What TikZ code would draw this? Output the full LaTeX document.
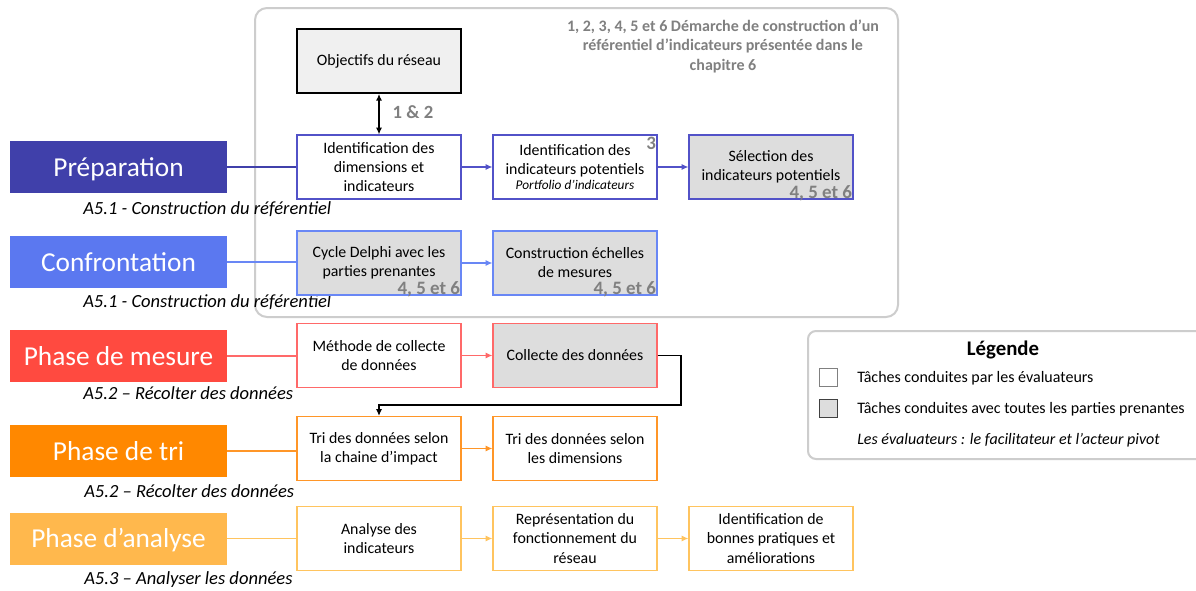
\documentclass[tikz,border=0pt]{standalone}
\usepackage{fontspec}
\setmainfont{Carlito}
\usetikzlibrary{arrows.meta}
\definecolor{prepC}{RGB}{64,64,170}
\definecolor{confC}{RGB}{91,120,240}
\definecolor{mesC}{RGB}{255,74,64}
\definecolor{triC}{RGB}{255,136,0}
\definecolor{anaC}{RGB}{255,184,77}
\definecolor{prepL}{RGB}{82,82,200}
\definecolor{confL}{RGB}{105,135,245}
\definecolor{mesL}{RGB}{255,105,105}
\definecolor{triL}{RGB}{255,150,40}
\definecolor{anaL}{RGB}{255,196,95}
\definecolor{fillG}{RGB}{221,221,221}
\definecolor{fillO}{RGB}{240,240,240}
\definecolor{lblG}{RGB}{128,128,128}
\definecolor{frameG}{RGB}{205,205,205}
\begin{document}
\begin{tikzpicture}[x=0.75pt,y=-0.75pt,
  phase/.style={minimum width=162.75pt,minimum height=39pt,inner sep=0pt,text height=16pt,text depth=2.5pt,text=white,font=\fontsize{20.5}{24}\selectfont},
  sub/.style={anchor=west,inner sep=0pt,font=\fontsize{13.9}{16}\selectfont\itshape},
  task/.style={draw,line width=0.9pt,minimum width=123pt,minimum height=48pt,inner sep=2pt,align=center,font=\fontsize{11.9}{14.3}\selectfont},
  num/.style={text=lblG,inner sep=1pt,font=\fontsize{14.2}{15}\selectfont\bfseries},
  conn/.style={line width=0.9pt},
  arr/.style={line width=0.9pt,-{Latex[length=5pt,width=4.5pt]}},
  legsq/.style={minimum size=14pt,inner sep=0pt,line width=0.8pt},
  legtxt/.style={anchor=west,inner sep=0pt,font=\fontsize{12}{14}\selectfont}
]
\useasboundingbox (0,0) rectangle (1196,590);
\fill[white] (0,0) rectangle (1196,590);

% outer frame
\draw[frameG,line width=1.5pt,rounded corners=9pt] (255,8) rectangle (898,317);
\node[text=lblG,align=center,inner sep=0pt,font=\fontsize{12}{14.6}\selectfont\bfseries] (demarche) at (723,46)
  {1, 2, 3, 4, 5 et 6 Démarche de construction d’un\\référentiel d’indicateurs présentée dans le\\chapitre 6};

% phase boxes
\node[phase,fill=prepC] (pPrep) at (118.5,167) {Préparation};
\node[phase,fill=confC] (pConf) at (118.5,262) {Confrontation};
\node[phase,fill=mesC] (pMes) at (118.5,356) {Phase de mesure};
\node[phase,fill=triC] (pTri) at (118.5,451) {Phase de tri};
\node[phase,fill=anaC] (pAna) at (118.5,538.5) {Phase d’analyse};

\node[sub] (s1) at (83,209) {A5.1 - Construction du référentiel};
\node[sub] (s2) at (83,302) {A5.1 - Construction du référentiel};
\node[sub] (s3) at (83,393) {A5.2 – Récolter des données};
\node[sub] (s4) at (84,491) {A5.2 – Récolter des données};
\node[sub] (s5) at (84,580) {A5.3 – Analyser les données};

% task boxes
\node[task,draw=black,fill=fillO,line width=1.3pt] (obj) at (379,61) {Objectifs du réseau};
\node[task,draw=prepL] (id1) at (379,167) {Identification des\\dimensions et\\indicateurs};
\node[task,draw=prepL] (id2) at (575,167) {Identification des\\indicateurs potentiels\\[-3.5pt]{\fontsize{10}{11}\selectfont\itshape Portfolio d’indicateurs}};
\node[task,draw=prepL,fill=fillG] (sel) at (771,167) {Sélection des\\indicateurs potentiels};
\node[task,draw=confL,fill=fillG] (cyc) at (379,263) {Cycle Delphi avec les\\parties prenantes};
\node[task,draw=confL,fill=fillG] (cons) at (575,263) {Construction échelles\\de mesures};
\node[task,draw=mesL] (meth) at (379,355.5) {Méthode de collecte\\de données};
\node[task,draw=mesL,fill=fillG] (coll) at (575,355.5) {Collecte des données};
\node[task,draw=triL] (tri1) at (379,448.5) {Tri des données selon\\la chaine d’impact};
\node[task,draw=triL] (tri2) at (575,448.5) {Tri des données selon\\les dimensions};
\node[task,draw=anaL] (ana1) at (379,538.5) {Analyse des\\indicateurs};
\node[task,draw=anaL] (ana2) at (575,538.5) {Représentation du\\fonctionnement du\\réseau};
\node[task,draw=anaL] (ana3) at (771,538.5) {Identification de\\bonnes pratiques et\\améliorations};

% number labels
\node[num,font=\fontsize{14}{15}\selectfont\bfseries] (n12) at (413,112) {1 \& 2};
\node[num,anchor=north east] (n3) at ([yshift=-1pt]id2.north east) {3};
\node[num,anchor=south east] (n4a) at ([yshift=-2pt]sel.south east) {4, 5 et 6};
\node[num,anchor=south east] (n4b) at ([yshift=-2pt]cyc.south east) {4, 5 et 6};
\node[num,anchor=south east] (n4c) at ([yshift=-2pt]cons.south east) {4, 5 et 6};

% connectors
\draw[line width=1pt,{Latex[length=5pt,width=4.5pt]}-{Latex[length=5pt,width=4.5pt]}] (obj.south) -- (id1.north);
\draw[conn,prepC] (pPrep.east) -- (pPrep.east -| id1.west);
\draw[arr,prepL] (id1) -- (id2);
\draw[arr,prepL] (id2) -- (sel);
\draw[conn,confL] (pConf.east) -- (pConf.east -| cyc.west);
\draw[arr,confL] (cyc) -- (cons);
\draw[conn,mesL] (pMes.east) -- (pMes.east -| meth.west);
\draw[arr,mesL] (meth) -- (coll);
\coordinate (bend) at (681,405);
\draw[arr,black] (coll.east) -| (bend) -- (bend -| tri1.north) -- (tri1.north);
\draw[conn,triL] (pTri.east) -- (pTri.east -| tri1.west);
\draw[arr,triL] (tri1) -- (tri2);
\draw[conn,anaL] (pAna.east) -- (pAna.east -| ana1.west);
\draw[arr,anaL] (ana1) -- (ana2);
\draw[arr,anaL] (ana2) -- (ana3);

% legend
\draw[frameG,line width=1.5pt,rounded corners=6pt] (808,331) rectangle (1220,459);
\node[inner sep=0pt,font=\fontsize{15.6}{17}\selectfont\bfseries] (legT) at (1003,350) {Légende};
\node[legsq,draw=gray,fill=white] (sq1) at (828.5,377.5) {};
\node[legsq,draw=black!75,fill=fillG] (sq2) at (828.5,408.5) {};
\node[legtxt] (l1) at (857,378) {Tâches conduites par les évaluateurs};
\node[legtxt] (l2) at (857,409) {Tâches conduites avec toutes les parties prenantes};
\node[legtxt,font=\fontsize{12}{14}\selectfont\itshape] (l3) at (857,440) {Les évaluateurs : le facilitateur et l’acteur pivot};
\end{tikzpicture}
\end{document}
